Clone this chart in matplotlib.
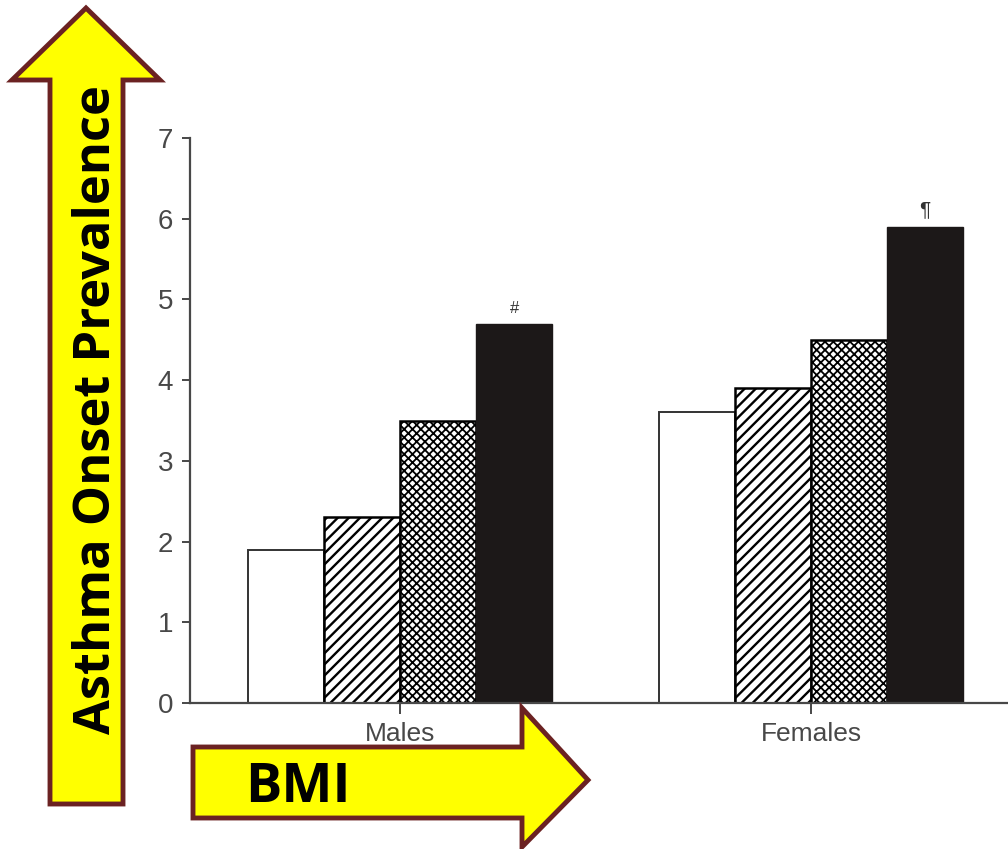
import matplotlib
matplotlib.use("Agg")
import matplotlib.pyplot as plt
import numpy as np
from matplotlib.patches import Polygon
from matplotlib import font_manager

groups = ["Males", "Females"]
bmi_values = [
    [1.9, 3.6],   # lowest BMI category (white)
    [2.3, 3.9],   # hatched
    [3.5, 4.5],   # cross-hatched
    [4.7, 5.9],   # highest BMI category (black)
]
marks = ["#", "\u00b6"]   # significance marks above the last bar in each group
y_ticks = [0, 1, 2, 3, 4, 5, 6, 7]

W, H = 1008, 849

fig = plt.figure(figsize=(W / 100, H / 100), dpi=100)
ax = fig.add_axes([190 / W, 1 - 703 / H, 1 - 190 / W, (703 - 138) / H])

gray = "#484848"
x = np.arange(len(groups))
width = 0.185
styles = [
    dict(color="white", edgecolor="#333333", linewidth=1.4, hatch=None),
    dict(color="white", edgecolor="black", linewidth=1.8, hatch="///"),
    dict(color="white", edgecolor="black", linewidth=1.8, hatch="xxxx"),
    dict(color="#1c1818", edgecolor="#1c1818", linewidth=1.0, hatch=None),
]
hatch_lw = [1.0, 1.7, 1.3, 1.0]
for i, (vals, st) in enumerate(zip(bmi_values, styles)):
    with plt.rc_context({"hatch.linewidth": hatch_lw[i]}):
        bars = ax.bar(x + (i - 1.5) * width, vals, width, zorder=2, **st)
        for b in bars:
            if hasattr(b, "set_hatch_linewidth"):
                b.set_hatch_linewidth(hatch_lw[i])

for xi, m, v, fs in zip(x, marks, bmi_values[-1], [12, 15]):
    ax.text(xi + 1.5 * width, v + 0.1, m, ha="center", va="bottom",
            fontsize=fs, color="#333333", family="Liberation Sans")

ax.set_xlim(-0.511, 1.479)
ax.set_ylim(0, 7)
ax.set_yticks(y_ticks)
ax.set_xticks(x)
ax.set_xticklabels(groups)
for s in ["top", "right"]:
    ax.spines[s].set_visible(False)
for s in ["left", "bottom"]:
    ax.spines[s].set_color(gray)
    ax.spines[s].set_linewidth(1.6)
ax.tick_params(axis="y", length=6, width=1.4, color=gray, labelcolor=gray,
               labelsize=20, pad=6)
ax.tick_params(axis="x", length=8, width=1.4, color=gray, labelcolor=gray,
               labelsize=19, pad=6)
for lab in ax.get_xticklabels() + ax.get_yticklabels():
    lab.set_family("Liberation Sans")


def fp(pts):
    return [(px / W, 1 - py / H) for px, py in pts]


arrow_face = "#ffff00"
arrow_edge = "#6b2222"
up_arrow = [(50, 804), (123, 804), (123, 80), (160, 80), (86, 8), (12, 80), (50, 80)]
right_arrow = [(193, 747), (522, 747), (522, 708), (588, 780), (522, 847), (522, 818), (193, 818)]
for pts in (up_arrow, right_arrow):
    fig.add_artist(Polygon(fp(pts), closed=True, transform=fig.transFigure,
                           facecolor=arrow_face, edgecolor=arrow_edge,
                           linewidth=3.5, zorder=5))

names = {f.name for f in font_manager.fontManager.ttflist}
narrow = "Liberation Sans Narrow" if "Liberation Sans Narrow" in names else "Open Sans"

ylab = fig.text(97 / W, 1 - 410 / H, "Asthma Onset Prevalence", rotation=90,
                ha="center", va="center", fontsize=34, fontweight="bold",
                family=narrow, color="black", zorder=6)
fig.canvas.draw()
ext = ylab.get_window_extent()
ylab.set_fontsize(34 * 650 / ext.height)

fig.text(298 / W, 1 - 788 / H, "BMI", ha="center", va="center", fontsize=39,
         fontweight="bold", family="Open Sans", color="black", zorder=6)

fig.savefig("out.png", dpi=100)
